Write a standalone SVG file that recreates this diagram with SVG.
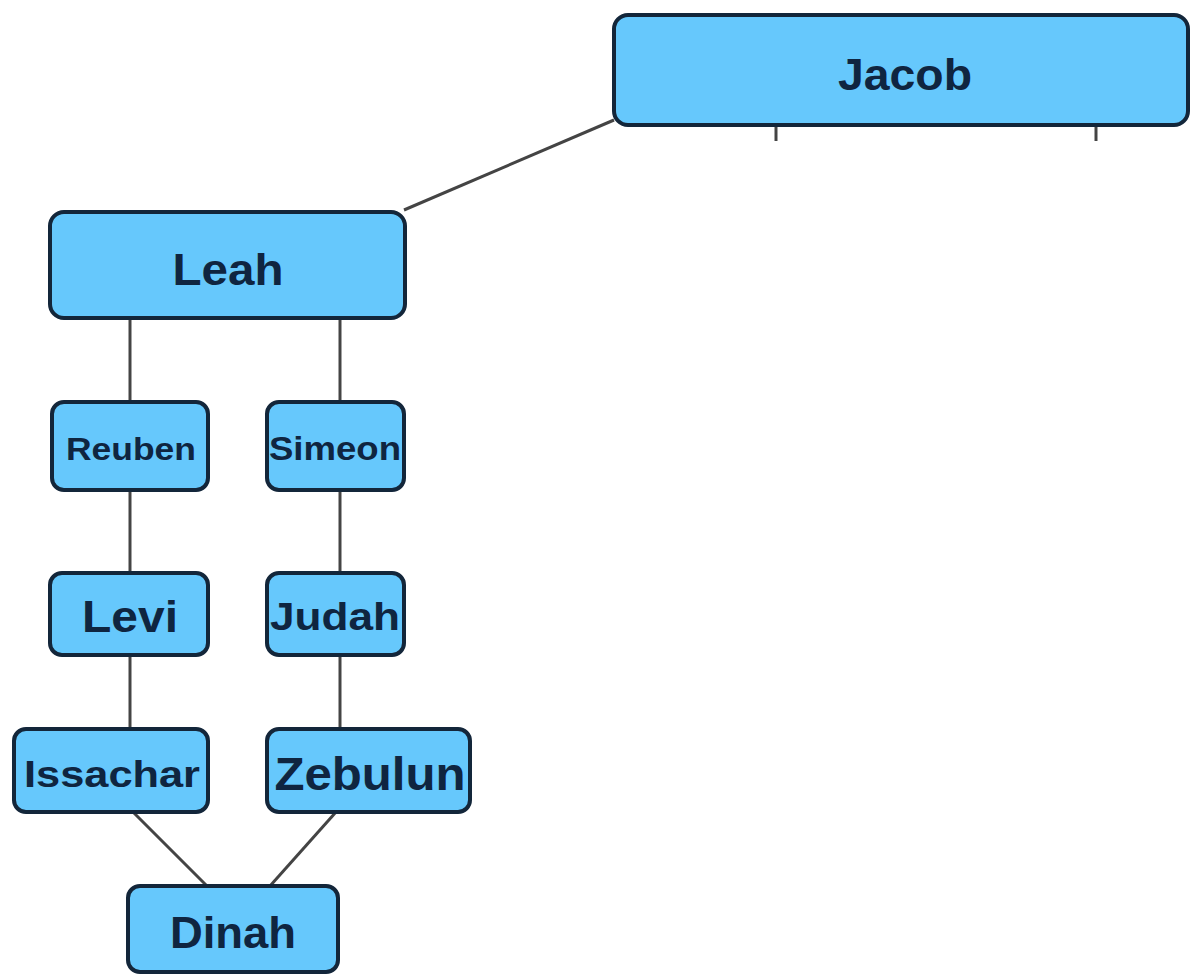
<svg xmlns="http://www.w3.org/2000/svg" width="1191" height="976" viewBox="0 0 1191 976">
<style>
.box{fill:#66c8fc;stroke:#13263a;stroke-width:4}
.lbl{font-family:"Liberation Sans",Arial,sans-serif;font-weight:bold;fill:#0f2540;text-anchor:middle}
.ln{stroke:#444;stroke-width:3;fill:none}
</style>
<rect width="1191" height="976" fill="#ffffff"/>
<g id="connectors">
<line class="ln" x1="614" y1="120" x2="404" y2="210"/>
<line class="ln" x1="776" y1="125" x2="776" y2="141"/>
<line class="ln" x1="1096" y1="125" x2="1096" y2="141"/>
<line class="ln" x1="130" y1="318" x2="130" y2="402"/>
<line class="ln" x1="340" y1="318" x2="340" y2="402"/>
<line class="ln" x1="130" y1="490" x2="130" y2="573"/>
<line class="ln" x1="340" y1="490" x2="340" y2="573"/>
<line class="ln" x1="130" y1="655" x2="130" y2="729"/>
<line class="ln" x1="340" y1="655" x2="340" y2="729"/>
<line class="ln" x1="133" y1="812" x2="207" y2="886"/>
<line class="ln" x1="336" y1="812" x2="270" y2="886"/>
</g>
<g id="jacob"><rect class="box" x="614" y="15" width="574" height="110" rx="14"/><text class="lbl" x="905" y="90" font-size="44" textLength="134" lengthAdjust="spacingAndGlyphs">Jacob</text></g>
<g id="leah"><rect class="box" x="50" y="212" width="355" height="106" rx="14"/><text class="lbl" x="228" y="285" font-size="44" textLength="111" lengthAdjust="spacingAndGlyphs">Leah</text></g>
<g id="reuben"><rect class="box" x="52" y="402" width="156" height="88" rx="12"/><text class="lbl" x="131" y="460" font-size="31" textLength="130" lengthAdjust="spacingAndGlyphs">Reuben</text></g>
<g id="simeon"><rect class="box" x="267" y="402" width="137" height="88" rx="12"/><text class="lbl" x="335" y="460" font-size="34" textLength="132" lengthAdjust="spacingAndGlyphs">Simeon</text></g>
<g id="levi"><rect class="box" x="50" y="573" width="158" height="82" rx="12"/><text class="lbl" x="130" y="632" font-size="44" textLength="96" lengthAdjust="spacingAndGlyphs">Levi</text></g>
<g id="judah"><rect class="box" x="267" y="573" width="137" height="82" rx="12"/><text class="lbl" x="335" y="630" font-size="38" textLength="130" lengthAdjust="spacingAndGlyphs">Judah</text></g>
<g id="issachar"><rect class="box" x="14" y="729" width="194" height="83" rx="12"/><text class="lbl" x="112" y="787" font-size="37" textLength="176" lengthAdjust="spacingAndGlyphs">Issachar</text></g>
<g id="zebulun"><rect class="box" x="267" y="729" width="203" height="83" rx="12"/><text class="lbl" x="370" y="790" font-size="46" textLength="191" lengthAdjust="spacingAndGlyphs">Zebulun</text></g>
<g id="dinah"><rect class="box" x="128" y="886" width="210" height="86" rx="12"/><text class="lbl" x="233" y="948" font-size="44" textLength="126" lengthAdjust="spacingAndGlyphs">Dinah</text></g>
</svg>
